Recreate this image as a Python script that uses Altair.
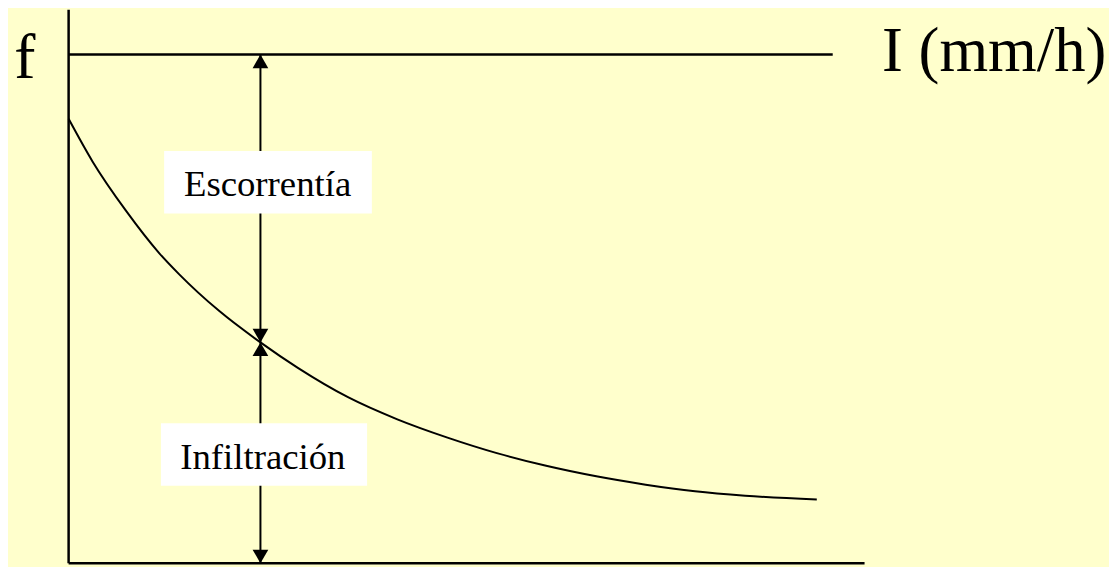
import altair as alt
import pandas as pd

# ---- data (units: time 0-10 on x, rate 0-100 on y) ----
curve_t = [0.0, 0.30, 0.72, 1.14, 1.39, 1.89, 2.41, 2.88, 3.51, 4.13, 4.76,
           5.38, 6.00, 6.63, 7.25, 7.87, 8.50, 9.40]
curve_f = [80.3, 72.6, 63.7, 56.0, 52.2, 45.6, 39.9, 35.3, 30.0, 26.0, 22.7,
           19.9, 17.6, 15.7, 14.2, 13.0, 12.2, 11.5]

rain_I = 91.9          # constant rainfall intensity level
rain_end_t = 9.60      # where the intensity line ends
t_max = 10.0
f_top = 100.0

arrow_t = 2.41
f_at_arrow = 39.9

labels = ["Escorrentía", "Infiltración"]
label_t = [2.50, 2.44]
label_f = [66.4, 17.1]
box_t1 = [1.20, 1.16]
box_t2 = [3.81, 3.75]
box_f1 = [63.2, 14.0]
box_f2 = [74.5, 25.3]

axis_labels = ["f", "I (mm/h)"]
axis_label_t = [-0.55, 10.22]
axis_label_f = [87.6, 88.9]

# ---- chart ----
H = 557
xs = alt.Scale(domain=[0, t_max], nice=False, zero=False)
ys = alt.Scale(domain=[0, f_top], nice=False, zero=False)

curve_df = pd.DataFrame({"t": curve_t, "f": curve_f})
curve = alt.Chart(curve_df).mark_line(color="black", strokeWidth=2, interpolate="monotone").encode(
    x=alt.X("t:Q", scale=xs, axis=None),
    y=alt.Y("f:Q", scale=ys, axis=None),
)

rules_df = pd.DataFrame({
    "x": [0, 0, 0],
    "x2": [0, t_max, rain_end_t],
    "y": [0, 0, rain_I],
    "y2": [f_top, 0, rain_I],
})
rules = alt.Chart(rules_df).mark_rule(color="black", strokeWidth=2.5).encode(
    x=alt.X("x:Q", scale=xs, axis=None), x2="x2:Q",
    y=alt.Y("y:Q", scale=ys, axis=None), y2="y2:Q",
)

shaft_df = pd.DataFrame({"x": [arrow_t], "y": [0], "y2": [rain_I]})
shaft = alt.Chart(shaft_df).mark_rule(color="black", strokeWidth=2).encode(
    x=alt.X("x:Q", scale=xs, axis=None),
    y=alt.Y("y:Q", scale=ys, axis=None), y2="y2:Q",
)

up_df = pd.DataFrame({"x": [arrow_t, arrow_t], "y": [rain_I, f_at_arrow]})
down_df = pd.DataFrame({"x": [arrow_t, arrow_t], "y": [f_at_arrow, 0]})
heads_up = alt.Chart(up_df).mark_point(shape="triangle-up", filled=True, size=250,
                                        color="black", opacity=1, yOffset=6.85).encode(
    x=alt.X("x:Q", scale=xs, axis=None), y=alt.Y("y:Q", scale=ys, axis=None))
heads_down = alt.Chart(down_df).mark_point(shape="triangle-down", filled=True, size=250,
                                            color="black", opacity=1, yOffset=-6.85).encode(
    x=alt.X("x:Q", scale=xs, axis=None), y=alt.Y("y:Q", scale=ys, axis=None))

box_df = pd.DataFrame({"x": box_t1, "x2": box_t2, "y": box_f1, "y2": box_f2})
boxes = alt.Chart(box_df).mark_rect(color="white").encode(
    x=alt.X("x:Q", scale=xs, axis=None), x2="x2:Q",
    y=alt.Y("y:Q", scale=ys, axis=None), y2="y2:Q",
)

lab_df = pd.DataFrame({"label": labels, "x": label_t, "y": label_f})
lab = alt.Chart(lab_df).mark_text(font="Liberation Serif", fontSize=37, color="black",
                                  align="center", baseline="alphabetic").encode(
    x=alt.X("x:Q", scale=xs, axis=None), y=alt.Y("y:Q", scale=ys, axis=None), text="label:N")

ax_df = pd.DataFrame({"label": axis_labels, "x": axis_label_t, "y": axis_label_f})
ax_f = alt.Chart(ax_df.iloc[[0]]).mark_text(font="Liberation Serif", fontSize=64, color="black",
                                            align="center", baseline="alphabetic").encode(
    x=alt.X("x:Q", scale=xs, axis=None), y=alt.Y("y:Q", scale=ys, axis=None), text="label:N")
ax_i = alt.Chart(ax_df.iloc[[1]]).mark_text(font="Liberation Serif", fontSize=63, color="black",
                                            align="left", baseline="alphabetic").encode(
    x=alt.X("x:Q", scale=xs, axis=None), y=alt.Y("y:Q", scale=ys, axis=None), text="label:N")

chart = alt.layer(curve, rules, shaft, heads_up, heads_down, boxes, lab, ax_f, ax_i).properties(
    width=801, height=H,
    background="#FFFFCC",
    autosize=alt.AutoSizeParams(type="none"),
    padding={"left": 61, "top": 0, "right": 246, "bottom": 2},
).configure_view(stroke=None)

chart.save("out.html", embed_options={"renderer": "svg", "actions": False})
